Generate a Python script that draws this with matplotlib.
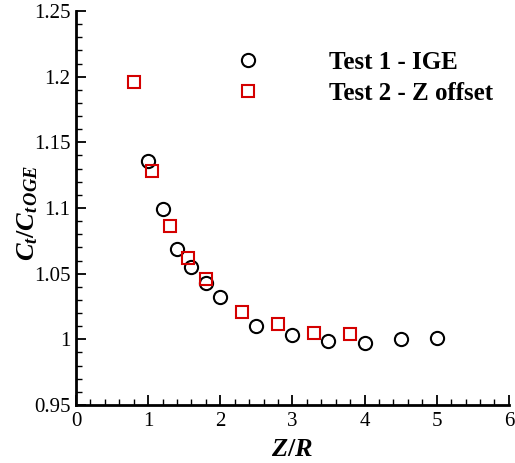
import matplotlib
matplotlib.use("Agg")
import matplotlib.pyplot as plt
from matplotlib.ticker import MultipleLocator

# =============================
#  Style
# =============================
plt.rcParams.update({
    "font.family": "serif",
    "font.serif": ["Liberation Serif", "DejaVu Serif"],
    "mathtext.fontset": "custom",
    "mathtext.rm": "Liberation Serif:bold",
    "mathtext.it": "Liberation Serif:italic:bold",
    "mathtext.bf": "Liberation Serif:bold",
    "xtick.direction": "in",
    "ytick.direction": "in",
})

# =============================
#  Data
# =============================
zr_test1 = [1.0, 1.2, 1.4, 1.6, 1.8, 2.0, 2.5, 3.0, 3.5, 4.0, 4.5, 5.0]
ct_test1 = [1.136, 1.099, 1.069, 1.055, 1.043, 1.032, 1.010, 1.003, 0.999, 0.997, 1.000, 1.001]

zr_test2 = [0.8, 1.05, 1.3, 1.55, 1.8, 2.3, 2.8, 3.3, 3.8]
ct_test2 = [1.196, 1.128, 1.086, 1.062, 1.046, 1.021, 1.012, 1.005, 1.004]

labels = ["Test 1 - IGE", "Test 2 - Z offset"]

fig = plt.figure(figsize=(5.15, 4.63), dpi=100)
ax = fig.add_axes([0.1476, 0.1253, 0.8404, 0.8510])

ax.plot(zr_test1, ct_test1, "o", ms=9.5, mfc="none", mec="black", mew=1.5, label=labels[0], clip_on=False)
ax.plot(zr_test2, ct_test2, "s", ms=8.5, mfc="none", mec="#d40000", mew=1.5, label=labels[1], clip_on=False)

ax.set_xlim(0, 6)
ax.set_ylim(0.95, 1.25)
ax.xaxis.set_major_locator(MultipleLocator(1))
ax.xaxis.set_minor_locator(MultipleLocator(0.2))
ax.yaxis.set_major_locator(MultipleLocator(0.05))
ax.yaxis.set_minor_locator(MultipleLocator(0.01))
ax.yaxis.set_major_formatter(plt.FuncFormatter(lambda v, p: f"{v:.2f}".rstrip("0").rstrip(".")))

ax.tick_params(which="major", length=7, width=1.3, labelsize=15)
ax.tick_params(axis="x", which="major", pad=5)
ax.tick_params(axis="y", which="major", pad=4)
ax.tick_params(which="minor", length=4, width=1.0)
for s in ["top", "right"]:
    ax.spines[s].set_visible(False)
for s in ["left", "bottom"]:
    ax.spines[s].set_linewidth(2)

ax.set_xlabel("$Z/R$", fontsize=19, labelpad=6)
ax.set_ylabel("$C_t/C_{t\\,OGE}$", fontsize=19)
ax.yaxis.set_label_coords(-0.083, 0.487)

leg = ax.legend(loc="upper left", bbox_to_anchor=(0.322, 0.955), frameon=False,
                handlelength=0.8, handletextpad=2.85, labelspacing=0.3,
                prop={"weight": "bold", "size": 18})

fig.savefig("out.png", dpi=100)
